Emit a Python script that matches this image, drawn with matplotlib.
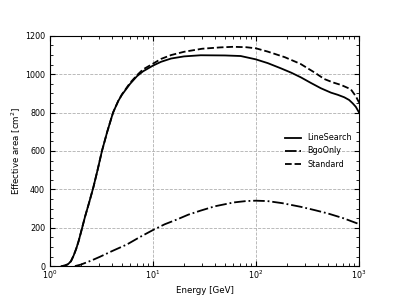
import matplotlib
matplotlib.use("Agg")
import matplotlib.pyplot as plt
from matplotlib.ticker import AutoMinorLocator

# LineSearch (solid)
e_line = [1.3, 1.4, 1.5, 1.6, 1.7, 1.8, 1.9, 2.0, 2.2, 2.4, 2.64, 2.9, 3.2, 3.6, 4.1,
          4.6, 5.0, 6.0, 7.0, 8.0, 10, 12, 15, 20, 29, 50, 71, 99, 130, 174, 220, 272,
          340, 426, 534, 620, 718, 800, 868, 930, 1000]
a_line = [0, 3, 10, 25, 55, 90, 130, 175, 260, 330, 410, 500, 600, 700, 800,
          860, 893, 950, 990, 1015, 1045, 1065, 1082, 1093, 1099, 1098, 1095, 1078, 1058, 1031, 1008, 984,
          955, 927, 904, 893, 880, 866, 848, 830, 800]

# BgoOnly (dash-dot)
e_bgo = [1.75, 2.0, 2.5, 3.07, 4.0, 5.6, 7.5, 10, 13, 17.1, 22, 28.9, 40, 61, 80, 99,
         129, 180, 272, 370, 494, 700, 1000]
a_bgo = [0, 8, 28, 49, 78, 113, 152, 188, 218, 243, 268, 289, 312, 332, 339, 341,
         339, 328, 309, 292, 275, 250, 219]

# Standard (dashed)
e_std = [1.3, 1.4, 1.5, 1.6, 1.7, 1.8, 1.9, 2.0, 2.2, 2.4, 2.64, 2.9, 3.2, 3.6, 4.1,
         4.6, 5.0, 6.0, 7.0, 8.0, 10, 12, 15, 20, 30, 45, 60, 80, 100, 130, 190, 270,
         370, 460, 560, 670, 830, 930, 1000]
a_std = [0, 3, 10, 25, 55, 90, 130, 175, 260, 330, 410, 500, 600, 700, 800,
         860, 895, 955, 995, 1025, 1055, 1080, 1100, 1117, 1133, 1140, 1143, 1141, 1135, 1118, 1089, 1054,
         1009, 975, 957, 944, 922, 885, 852]

plt.rcParams["font.size"] = 5.8

fig, ax = plt.subplots(figsize=(3.99, 2.99), dpi=100)

ax.plot(e_line, a_line, "k-", lw=1.3, label="LineSearch")
ax.plot(e_bgo, a_bgo, "k-.", lw=1.3, label="BgoOnly")
ax.plot(e_std, a_std, "k--", lw=1.3, label="Standard")

ax.set_xscale("log")
ax.set_xlim(1, 1000)
ax.set_ylim(0, 1200)
ax.yaxis.set_minor_locator(AutoMinorLocator(4))
ax.tick_params(which="both", direction="in", top=True, right=True)
ax.tick_params(which="major", length=3.5)
ax.tick_params(which="minor", length=2)
ax.tick_params(axis="x", pad=1.5)
ax.grid(True, linestyle="--", color="#b0b0b0", lw=0.6)

ax.set_xlabel("Energy [GeV]", fontsize=6.2, labelpad=4)
ax.set_ylabel("Effective area [cm$^2$]", fontsize=6.2, labelpad=1.5)
ax.legend(loc="center right", frameon=False)

fig.savefig("out.png", dpi=100)
